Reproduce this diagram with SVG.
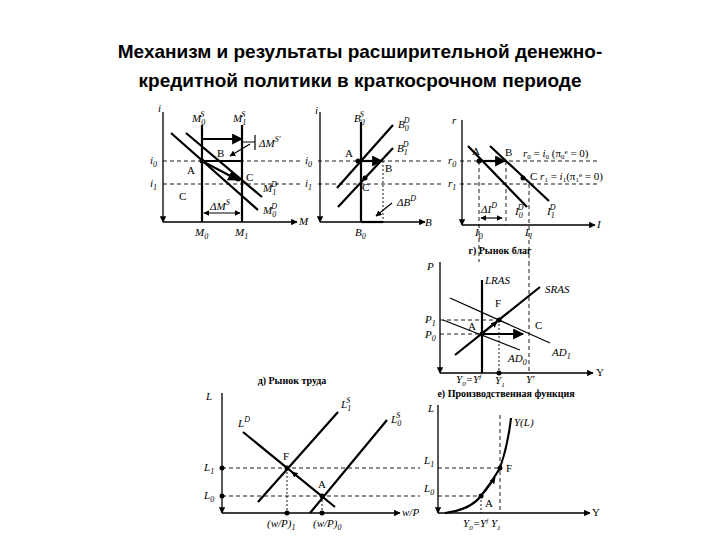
<svg xmlns="http://www.w3.org/2000/svg" width="720" height="540" viewBox="0 0 720 540">
<defs>
<marker id="ah" viewBox="0 0 10 10" refX="9" refY="5" markerWidth="5" markerHeight="5" orient="auto-start-reverse"><path d="M0,0L10,5L0,10z" fill="#000"/></marker>
<style>
.ax{stroke:#000;stroke-width:1.3;fill:none}
.ln{stroke:#000;stroke-width:2.2;fill:none}
.th{stroke:#000;stroke-width:1.2;fill:none}
.ds{stroke:#000;stroke-width:0.9;stroke-dasharray:4 3;fill:none}
.dt{stroke:#000;stroke-width:0.9;stroke-dasharray:2 2;fill:none}
text{font-family:"Liberation Serif",serif;font-size:11px;fill:#000}
.it{font-style:italic}
.tt{font-family:"Liberation Sans",Arial,sans-serif;font-weight:bold;font-size:19px}
.hd{font-family:"Liberation Serif",serif;font-weight:bold;font-size:10px}
</style>
</defs>
<rect width="720" height="540" fill="#fff"/>
<g id="title">
<text class="tt" x="360" y="58" text-anchor="middle">Механизм и результаты расширительной денежно-</text>
<text class="tt" x="360" y="87" text-anchor="middle">кредитной политики в краткосрочном периоде</text>
</g>
<g id="panel-money">
<path class="ax" d="M163,222V112M163,222H297" marker-start="url(#ah)" marker-end="url(#ah)"/>
<path class="ln" d="M202,125V222M242,125V222M171,133L258,210M186,133L262,197"/>
<path class="ds" d="M163,161H300M163,184H300"/>
<path class="ln" d="M202,139H242" marker-end="url(#ah)"/>
<path class="ln" d="M202,161H242"/>
<path class="ln" d="M202,161L238,180" marker-end="url(#ah)"/>
<path class="th" d="M242,142H255M255,135V150M250,144L230,156" marker-end="url(#ah)"/>
<path class="th" d="M204,213H240" marker-start="url(#ah)" marker-end="url(#ah)"/>
<circle cx="202" cy="161" r="2.5"/><circle cx="238" cy="179" r="2.5"/>
<text class="it" x="158" y="112">i</text>
<text class="it" x="192" y="122">M<tspan font-size="8" dy="3">0</tspan><tspan font-size="8" dy="-8" dx="-5">S</tspan></text>
<text class="it" x="233" y="122">M<tspan font-size="8" dy="3">1</tspan><tspan font-size="8" dy="-8" dx="-5">S</tspan></text>
<text class="it" x="259" y="147">ΔM<tspan font-size="8" dy="-5">S'</tspan></text>
<text x="217" y="157">B</text><text x="187" y="174">A</text><text x="246" y="181">C</text><text x="179" y="200">C</text>
<text class="it" x="150" y="164">i<tspan font-size="8" dy="3">0</tspan></text>
<text class="it" x="150" y="187">i<tspan font-size="8" dy="3">1</tspan></text>
<text class="it" x="263" y="192">M<tspan font-size="8" dy="3">1</tspan><tspan font-size="8" dy="-8" dx="-5">D</tspan></text>
<text class="it" x="263" y="214">M<tspan font-size="8" dy="3">0</tspan><tspan font-size="8" dy="-8" dx="-5">D</tspan></text>
<text class="it" x="210" y="210">ΔM<tspan font-size="8" dy="-5">S</tspan></text>
<text class="it" x="195" y="236">M<tspan font-size="8" dy="3">0</tspan></text>
<text class="it" x="235" y="236">M<tspan font-size="8" dy="3">1</tspan></text>
<text class="it" x="299" y="225">M</text>
</g>
<g id="panel-bonds">
<path class="ax" d="M320,222V112M320,222H425" marker-start="url(#ah)" marker-end="url(#ah)"/>
<path class="ln" d="M361,122V222M337,188L393,125M338,207L393,148"/>
<path class="ds" d="M318,161H444M318,184H444"/>
<path class="dt" d="M383,161V222"/>
<path class="ln" d="M358,161H382" marker-end="url(#ah)"/>
<path class="ln" d="M361,222H383"/>
<circle cx="358" cy="161" r="2.5"/><circle cx="365" cy="178" r="2.5"/>
<path class="th" d="M392,203L376,216" marker-end="url(#ah)"/>
<text class="it" x="315" y="114">i</text>
<text class="it" x="354" y="122">B<tspan font-size="8" dy="3">0</tspan><tspan font-size="8" dy="-8" dx="-5">S</tspan></text>
<text class="it" x="398" y="128">B<tspan font-size="8" dy="3">0</tspan><tspan font-size="8" dy="-8" dx="-5">D</tspan></text>
<text class="it" x="397" y="152">B<tspan font-size="8" dy="3">1</tspan><tspan font-size="8" dy="-8" dx="-5">D</tspan></text>
<text x="345" y="157">A</text><text x="385" y="172">B</text><text x="362" y="191">C</text>
<text class="it" x="305" y="164">i<tspan font-size="8" dy="3">0</tspan></text>
<text class="it" x="305" y="187">i<tspan font-size="8" dy="3">1</tspan></text>
<text class="it" x="397" y="206">ΔB<tspan font-size="8" dy="-5">D</tspan></text>
<text class="it" x="355" y="236">B<tspan font-size="8" dy="3">0</tspan></text>
<text class="it" x="425" y="226">B</text>
</g>
<g id="panel-invest">
<path class="ax" d="M462,225V120M462,225H595" marker-start="url(#ah)" marker-end="url(#ah)"/>
<path class="ln" d="M468,146L527,207M490,146L549,201"/>
<path class="ds" d="M460,161H600M460,184H600"/>
<path class="ds" d="M479,161V262M506,161V225M529,184V262"/>
<path class="ln" d="M479,161H505" marker-end="url(#ah)"/>
<path class="th" d="M481,218H502" marker-start="url(#ah)" marker-end="url(#ah)"/>
<circle cx="479" cy="161" r="2.5"/><circle cx="523" cy="178" r="2.5"/>
<text class="it" x="452" y="124">r</text>
<text x="472" y="155">A</text><text x="505" y="156">B</text>
<text class="it" x="448" y="164">r<tspan font-size="8" dy="3">0</tspan></text>
<text class="it" x="448" y="187">r<tspan font-size="8" dy="3">1</tspan></text>
<text x="523" y="157" font-size="9"><tspan class="it">r</tspan><tspan font-size="7" dy="2">0</tspan><tspan dy="-2"> = </tspan><tspan class="it">i</tspan><tspan font-size="7" dy="2">0</tspan><tspan dy="-2"> (π</tspan><tspan font-size="7" dy="2">0</tspan><tspan font-size="7" dy="-5">e</tspan><tspan dy="3"> = 0)</tspan></text>
<text x="530" y="180" font-size="9"><tspan font-size="11">C</tspan><tspan>  </tspan><tspan class="it">r</tspan><tspan font-size="7" dy="2">1</tspan><tspan dy="-2"> = </tspan><tspan class="it">i</tspan><tspan font-size="7" dy="2">1</tspan><tspan dy="-2">(π</tspan><tspan font-size="7" dy="2">1</tspan><tspan font-size="7" dy="-5">e</tspan><tspan dy="3"> = 0)</tspan></text>
<text class="it" x="481" y="213">ΔI<tspan font-size="8" dy="-5">D</tspan></text>
<text class="it" x="515" y="215">I<tspan font-size="8" dy="3">0</tspan><tspan font-size="8" dy="-8" dx="-5">D</tspan></text>
<text class="it" x="547" y="215">I<tspan font-size="8" dy="3">1</tspan><tspan font-size="8" dy="-8" dx="-5">D</tspan></text>
<text class="it" x="475" y="236">I<tspan font-size="8" dy="3">0</tspan></text>
<text class="it" x="525" y="236">I<tspan font-size="8" dy="3">1</tspan></text>
<text class="it" x="597" y="228">I</text>
</g>
<g id="panel-goods">
<text class="hd" x="500" y="254" text-anchor="middle">г) Рынок благ</text>
<path class="ax" d="M440,373V262M440,373H593" marker-start="url(#ah)" marker-end="url(#ah)"/>
<path class="ln" d="M482,280V373M455,355L540,287"/>
<path class="th" d="M443,320L520,350M450,298L550,343"/>
<path class="ds" d="M440,320H499M440,334H482M529,262V373"/>
<path class="dt" d="M499,320V373"/>
<path class="ln" d="M482,334H523" marker-end="url(#ah)"/>
<path class="th" d="M482,334L497,322" marker-end="url(#ah)"/>
<circle cx="499" cy="320" r="2.5"/><circle cx="482" cy="334" r="2.5"/><circle cx="499" cy="373" r="2.5"/>
<text class="it" x="427" y="270">P</text>
<text class="it" x="485" y="284" font-size="10">LRAS</text>
<text class="it" x="545" y="293" font-size="10">SRAS</text>
<text x="495" y="307">F</text><text x="468" y="330">A</text><text x="535" y="329">C</text>
<text class="it" x="425" y="323">P<tspan font-size="8" dy="3">1</tspan></text>
<text class="it" x="425" y="338">P<tspan font-size="8" dy="3">0</tspan></text>
<text class="it" x="508" y="362" font-size="10">AD<tspan font-size="8" dy="3">0</tspan></text>
<text class="it" x="552" y="356" font-size="10">AD<tspan font-size="8" dy="3">1</tspan></text>
<text class="it" x="456" y="383" font-size="10">Y<tspan font-size="7" dy="3">0</tspan><tspan dy="-3">=Y</tspan><tspan font-size="7" dy="-4">f</tspan></text>
<text class="it" x="495" y="384" font-size="10">Y<tspan font-size="7" dy="3">1</tspan></text>
<text class="it" x="526" y="383" font-size="10">Y'</text>
<text x="596" y="376">Y</text>
</g>
<g id="panel-labour">
<text class="hd" x="292" y="384" text-anchor="middle">д) Рынок труда</text>
<path class="ax" d="M222,513V393M222,513H400" marker-start="url(#ah)" marker-end="url(#ah)"/>
<path class="ln" d="M258,502L338,412M310,513L387,420M243,432L335,507"/>
<path class="ds" d="M222,468H420M222,496H420"/>
<path class="dt" d="M287,468V513M322,496V513"/>
<path class="th" d="M322,496L292,472" marker-end="url(#ah)"/>
<circle cx="287" cy="468" r="2.5"/><circle cx="322" cy="496" r="2.5"/>
<circle cx="222" cy="468" r="2.5"/><circle cx="222" cy="496" r="2.5"/>
<circle cx="287" cy="513" r="2.5"/><circle cx="322" cy="513" r="2.5"/>
<text class="it" x="206" y="400">L</text>
<text class="it" x="238" y="427">L<tspan font-size="8" dy="-5">D</tspan></text>
<text class="it" x="341" y="408">L<tspan font-size="8" dy="3">1</tspan><tspan font-size="8" dy="-8" dx="-5">S</tspan></text>
<text class="it" x="391" y="423">L<tspan font-size="8" dy="3">0</tspan><tspan font-size="8" dy="-8" dx="-5">S</tspan></text>
<text x="283" y="460">F</text><text x="318" y="488">A</text>
<text class="it" x="204" y="471">L<tspan font-size="8" dy="3">1</tspan></text>
<text class="it" x="204" y="499">L<tspan font-size="8" dy="3">0</tspan></text>
<text class="it" x="267" y="527">(w/P)<tspan font-size="8" dy="3">1</tspan></text>
<text class="it" x="313" y="527">(w/P)<tspan font-size="8" dy="3">0</tspan></text>
<text class="it" x="402" y="516">w/P</text>
</g>
<g id="panel-production">
<text class="hd" x="506" y="397" text-anchor="middle">е) Производственная функция</text>
<path class="ax" d="M438,513V405M438,513H590" marker-start="url(#ah)" marker-end="url(#ah)"/>
<path class="ln" d="M445,513Q470,510 481,496T500,468Q508,445 511,418"/>
<path class="ds" d="M438,468H500M438,496H481M500,415V513"/>
<path class="dt" d="M481,496V513"/>
<path class="th" d="M485,492L495,478" marker-end="url(#ah)"/>
<circle cx="481" cy="496" r="2.5"/><circle cx="500" cy="468" r="2.5"/>
<text class="it" x="428" y="412">L</text>
<text class="it" x="514" y="426">Y(L)</text>
<text x="506" y="472">F</text><text x="485" y="507">A</text>
<text class="it" x="424" y="464">L<tspan font-size="8" dy="3">1</tspan></text>
<text class="it" x="424" y="492">L<tspan font-size="8" dy="3">0</tspan></text>
<text class="it" x="463" y="527" font-size="10">Y<tspan font-size="7" dy="3">0</tspan><tspan dy="-3">=Y</tspan><tspan font-size="7" dy="-4">f</tspan><tspan dy="4"> Y</tspan><tspan font-size="7" dy="3">1</tspan></text>
<text x="592" y="516">Y</text>
</g>
</svg>
